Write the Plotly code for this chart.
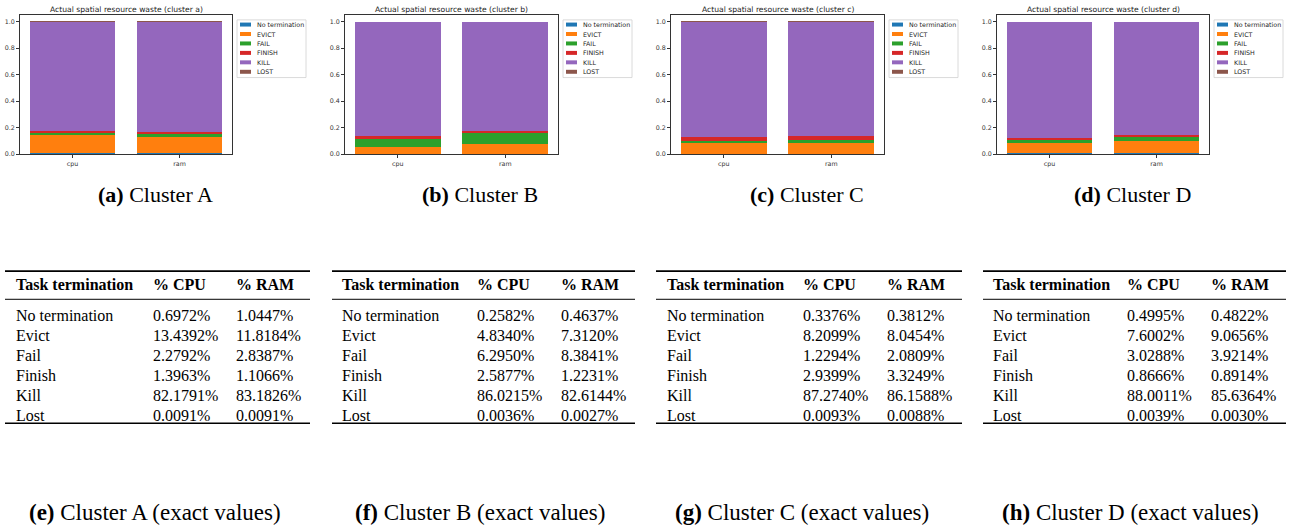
import plotly.graph_objects as go

W, H = 1298, 527

# ---------------- data ----------------
termination_rows = ["No termination", "Evict", "Fail", "Finish", "Kill", "Lost"]
legend_labels = ["No termination", "EVICT", "FAIL", "FINISH", "KILL", "LOST"]
resources = ["cpu", "ram"]

cluster_a_cpu = [0.6972, 13.4392, 2.2792, 1.3963, 82.1791, 0.0091]
cluster_a_ram = [1.0447, 11.8184, 2.8387, 1.1066, 83.1826, 0.0091]
cluster_b_cpu = [0.2582, 4.8340, 6.2950, 2.5877, 86.0215, 0.0036]
cluster_b_ram = [0.4637, 7.3120, 8.3841, 1.2231, 82.6144, 0.0027]
cluster_c_cpu = [0.3376, 8.2099, 1.2294, 2.9399, 87.2740, 0.0093]
cluster_c_ram = [0.3812, 8.0454, 2.0809, 3.3249, 86.1588, 0.0088]
cluster_d_cpu = [0.4995, 7.6002, 3.0288, 0.8666, 88.0011, 0.0039]
cluster_d_ram = [0.4822, 9.0656, 3.9214, 0.8914, 85.6364, 0.0030]

cluster_letters = ["a", "b", "c", "d"]
chart_captions = ["(a)", "(b)", "(c)", "(d)"]
table_captions = ["(e)", "(f)", "(g)", "(h)"]
cluster_names = ["Cluster A", "Cluster B", "Cluster C", "Cluster D"]
clusters_cpu = [cluster_a_cpu, cluster_b_cpu, cluster_c_cpu, cluster_d_cpu]
clusters_ram = [cluster_a_ram, cluster_b_ram, cluster_c_ram, cluster_d_ram]
table_header = ["Task termination", "% CPU", "% RAM"]
y_tick_vals = [0.0, 0.2, 0.4, 0.6, 0.8, 1.0]

# ---------------- styles / layout positions ----------------
colors = ["#1f77b4", "#ff7f0e", "#2ca02c", "#d62728", "#9467bd", "#8c564b"]
axis_x = [(20, 232), (345, 558), (671, 884), (997, 1209)]
axis_y = (15, 155)
chart_cap_x = [155, 480, 807, 1132]
table_rule_x = [(5, 310), (332, 635), (656, 962), (983, 1286)]
table_text_x = [(16, 153, 236), (342, 477, 561), (667, 803, 887), (993, 1127, 1211)]
table_cap_x = [155, 480, 802, 1130]

SANS = "DejaVu Sans"
SERIF = "Liberation Serif"
NBSP = "\u00a0"


def px(x):
    return x / W


def py(y):
    return 1 - y / H


fig = go.Figure()
shapes = []
annotations = []

for i in range(4):
    n = i + 1
    xa = "x" if n == 1 else f"x{n}"
    ya = "y" if n == 1 else f"y{n}"
    for k, lab in enumerate(legend_labels):
        fig.add_trace(go.Bar(
            x=resources,
            y=[clusters_cpu[i][k] / 100, clusters_ram[i][k] / 100],
            name=lab, marker=dict(color=colors[k], line=dict(width=0)),
            xaxis=xa, yaxis=ya, showlegend=False,
        ))
    x0, x1 = axis_x[i]
    axis_common = dict(showline=True, mirror=True, linecolor="#333333", linewidth=1,
                       ticks="outside", ticklen=3, tickwidth=0.8, tickcolor="#333333",
                       showgrid=False, zeroline=False,
                       tickfont=dict(family=SANS, size=6.3, color="#333333"))
    fig.update_layout(**{
        ("xaxis" if n == 1 else f"xaxis{n}"): dict(
            domain=[px(x0), px(x1)], anchor=ya, type="category",
            range=[-0.49, 1.49], **axis_common),
        ("yaxis" if n == 1 else f"yaxis{n}"): dict(
            domain=[py(axis_y[1]), py(axis_y[0])], anchor=xa,
            range=[0, 1.05], tickvals=y_tick_vals, tickformat=".1f", **axis_common),
    })
    # title
    annotations.append(dict(
        x=px((x0 + x1) / 2), y=py(10), xref="paper", yref="paper",
        text=f"Actual spatial resource waste (cluster {cluster_letters[i]})",
        showarrow=False, font=dict(family=SANS, size=7.6, color="#222222"),
        xanchor="center", yanchor="middle"))
    # custom compact legend (matplotlib style)
    lx0 = x1 + 5
    lx1 = lx0 + 69
    shapes.append(dict(type="rect", xref="paper", yref="paper",
                       x0=px(lx0), x1=px(lx1), y0=py(78), y1=py(20),
                       line=dict(color="#d0d0d0", width=0.8), fillcolor="white"))
    for k, lab in enumerate(legend_labels):
        cy = 24.7 + k * 9.5
        shapes.append(dict(type="rect", xref="paper", yref="paper",
                           x0=px(lx0 + 3), x1=px(lx0 + 14), y0=py(cy + 2), y1=py(cy - 2),
                           line=dict(width=0), fillcolor=colors[k]))
        annotations.append(dict(
            x=px(lx0 + 18), y=py(cy), xref="paper", yref="paper", text=lab,
            showarrow=False, xanchor="left", yanchor="middle",
            font=dict(family=SANS, size=6.3, color="#222222")))
    # chart caption
    annotations.append(dict(
        x=px(chart_cap_x[i]), y=py(196), xref="paper", yref="paper",
        text=f"<b>{chart_captions[i]}</b> {cluster_names[i]}",
        showarrow=False, xanchor="center", yanchor="middle",
        font=dict(family=SERIF, size=22, color="black")))

    # ---------------- table ----------------
    r0, r1 = table_rule_x[i]
    t0, t1, t2 = table_text_x[i]
    pad = 8
    tx0 = t0 - pad
    widths = [t1 - t0, t2 - t1, r1 - (t2 - pad)]
    fig.add_trace(go.Table(
        domain=dict(x=[px(tx0), px(r1)], y=[py(440), py(270)]),
        columnwidth=widths,
        header=dict(values=[f"<b>{h.replace(' ', NBSP)}</b>" for h in table_header],
                    align="left", height=26,
                    fill=dict(color="rgba(0,0,0,0)"),
                    line=dict(width=0, color="rgba(0,0,0,0)"),
                    font=dict(family=SERIF, size=16, color="black")),
        cells=dict(values=[[r.replace(" ", NBSP) for r in termination_rows],
                           [f"{v:.4f}%" for v in clusters_cpu[i]],
                           [f"{v:.4f}%" for v in clusters_ram[i]]],
                   align="left", height=20,
                   fill=dict(color="rgba(0,0,0,0)"),
                   line=dict(width=0, color="rgba(0,0,0,0)"),
                   font=dict(family=SERIF, size=16, color="black")),
    ))
    for yy, wdt in [(272.7, 1.6), (301, 1.0), (425.7, 1.6)]:
        shapes.append(dict(type="line", xref="paper", yref="paper",
                           x0=px(r0), x1=px(r1), y0=py(yy), y1=py(yy),
                           line=dict(color="black", width=wdt)))
    annotations.append(dict(
        x=px(table_cap_x[i]), y=py(515), xref="paper", yref="paper",
        text=f"<b>{table_captions[i]}</b> {cluster_names[i]} (exact values)",
        showarrow=False, xanchor="center", yanchor="middle",
        font=dict(family=SERIF, size=23, color="black")))

fig.update_layout(
    width=W, height=H, margin=dict(l=0, r=0, t=0, b=0),
    paper_bgcolor="white", plot_bgcolor="white",
    barmode="stack", bargap=0.2,
    showlegend=False, shapes=shapes, annotations=annotations,
)

fig.write_html("out.html", config={"displayModeBar": False},
               post_script="document.body.style.margin='0';document.body.style.overflow='hidden';")
